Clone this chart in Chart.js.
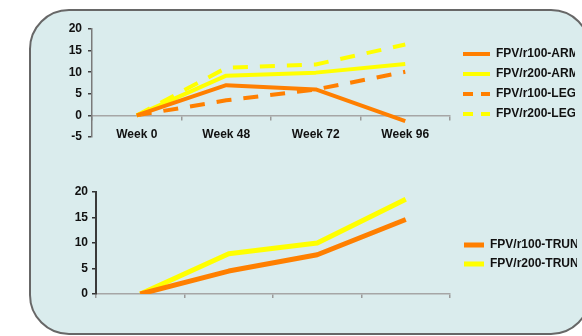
<!DOCTYPE html>
<html>
<head>
<meta charset="utf-8">
<script src="https://cdn.jsdelivr.net/npm/chart.js@4/dist/chart.umd.min.js"></script>
<style>
  html, body { margin: 0; padding: 0; background: #ffffff; width: 582px; height: 336px; overflow: hidden; }
  #panel {
    position: absolute; left: 29px; top: 9px; width: 562px; height: 326px;
    box-sizing: border-box; border: 2px solid #676767; border-radius: 40px;
    background: #daeced;
  }
  #armLeg { position: absolute; left: 0; top: 0; }
  #trunk { position: absolute; left: 0; top: 170px; }
</style>
</head>
<body>
<div id="panel"></div>
<canvas id="armLeg" width="582" height="160"></canvas>
<canvas id="trunk" width="582" height="166"></canvas>
<script>
// Visits on the x axis
const weeks = ['Week 0', 'Week 48', 'Week 72', 'Week 96'];

// Upper panel: change in arm and leg fat
const armLabels = ['FPV/r100-ARM', 'FPV/r200-ARM', 'FPV/r100-LEG', 'FPV/r200-LEG'];
const arm100 = [0, 7.0, 6.0, -1.3];
const arm200 = [0, 9.2, 9.9, 11.9];
const leg100 = [0, 3.5, 6.0, 10.1];
const leg200 = [0, 11.0, 11.8, 16.4];
const upperTicks = { min: -5, max: 20, step: 5 };

// Lower panel: change in trunk fat
const trunkLabels = ['FPV/r100-TRUNK', 'FPV/r200-TRUNK'];
const trunk100 = [0, 4.5, 7.7, 14.6];
const trunk200 = [0, 7.9, 10.0, 18.6];
const lowerTicks = { min: 0, max: 20, step: 5 };

const ORANGE = '#ff7f00';
const YELLOW = '#ffff00';

Chart.defaults.font.family = '"Liberation Sans", Arial, sans-serif';
Chart.defaults.font.size = 12;
Chart.defaults.font.weight = 'bold';
Chart.defaults.color = '#111111';

// Puts the legend block at a fixed spot beside the plot
const legendPlacement = {
  id: 'legendPlacement',
  afterLayout(chart, args, opts) {
    const lg = chart.legend;
    if (!lg) return;
    const dx = opts.x - lg.left;
    const dy = opts.y - lg.top;
    lg.left += dx; lg.right += dx;
    lg.top += dy; lg.bottom += dy;
  }
};

// Legend keys: a short line in the series colour, dashed for the LEG series
function legendItems(chart) {
  const items = Chart.defaults.plugins.legend.labels.generateLabels(chart);
  items.forEach(it => {
    const ds = chart.data.datasets[it.datasetIndex];
    it.strokeStyle = ds.borderColor;
    it.lineWidth = ds.borderWidth;
    it.lineDash = (ds.borderDash && ds.borderDash.length) ? [10, 8] : [];
    it.lineCap = 'butt';
  });
  return items;
}

function line(label, data, color, width, dashed) {
  return {
    label, data,
    borderColor: color,
    backgroundColor: color,
    borderWidth: width,
    borderDash: dashed ? [15, 12] : [],
    borderJoinStyle: 'round',
    pointRadius: 0,
    tension: 0,
    fill: false
  };
}

new Chart(document.getElementById('armLeg'), {
  type: 'line',
  data: {
    labels: weeks,
    datasets: [
      line(armLabels[0], arm100, ORANGE, 4, false),
      line(armLabels[1], arm200, YELLOW, 4, false),
      line(armLabels[2], leg100, ORANGE, 4, true),
      line(armLabels[3], leg200, YELLOW, 4, true)
    ]
  },
  plugins: [legendPlacement],
  options: {
    responsive: false,
    animation: false,
    layout: { padding: { left: 52, top: 29, right: 12, bottom: 23 } },
    scales: {
      x: {
        position: { y: 0 },
        afterFit: s => { s.height = 0; },
        offset: true,
        grid: { offset: true, drawOnChartArea: false, drawTicks: true, tickLength: 4, color: '#9a9a9a', lineWidth: 1.5 },
        border: { display: true, color: '#a6a6a6', width: 1.5 },
        ticks: { padding: 8, color: '#111111' }
      },
      y: {
        min: upperTicks.min, max: upperTicks.max,
        afterFit: s => { s.width = 40; },
        ticks: { stepSize: upperTicks.step, padding: 6, color: '#111111' },
        grid: { drawOnChartArea: false, drawTicks: true, tickLength: 4, tickColor: '#444444', lineWidth: 1.5 },
        border: { display: true, color: '#7a7a7a', width: 1.5 }
      }
    },
    plugins: {
      tooltip: { enabled: false },
      legendPlacement: { x: 455, y: 40 },
      legend: {
        position: 'right',
        align: 'start',
        maxWidth: 120,
        labels: {
          usePointStyle: true,
          pointStyle: 'line',
          pointStyleWidth: 27,
          padding: 8,
          color: '#111111',
          generateLabels: legendItems
        }
      }
    }
  }
});

new Chart(document.getElementById('trunk'), {
  type: 'line',
  data: {
    labels: weeks,
    datasets: [
      line(trunkLabels[0], trunk100, ORANGE, 5, false),
      line(trunkLabels[1], trunk200, YELLOW, 5, false)
    ]
  },
  plugins: [legendPlacement],
  options: {
    responsive: false,
    animation: false,
    layout: { padding: { left: 56, top: 22, right: 12, bottom: 42 } },
    scales: {
      x: {
        position: 'bottom',
        afterFit: s => { s.height = 0; },
        offset: true,
        grid: { offset: true, drawOnChartArea: false, drawTicks: true, tickLength: 4, color: '#9a9a9a', lineWidth: 1.5 },
        border: { display: true, color: '#a6a6a6', width: 1.5 },
        ticks: { padding: 8, color: '#111111' }
      },
      y: {
        min: lowerTicks.min, max: lowerTicks.max,
        afterFit: s => { s.width = 40; },
        ticks: { stepSize: lowerTicks.step, padding: 4, color: '#111111' },
        grid: { drawOnChartArea: false, drawTicks: true, tickLength: 4, tickColor: '#333333', lineWidth: 1.5 },
        border: { display: true, color: '#3a3a3a', width: 2 }
      }
    },
    plugins: {
      tooltip: { enabled: false },
      legendPlacement: { x: 457, y: 62 },
      legend: {
        position: 'right',
        align: 'start',
        maxWidth: 120,
        labels: {
          usePointStyle: true,
          pointStyle: 'line',
          pointStyleWidth: 20,
          padding: 7,
          color: '#111111',
          generateLabels: legendItems
        }
      }
    }
  }
});
</script>
</body>
</html>
